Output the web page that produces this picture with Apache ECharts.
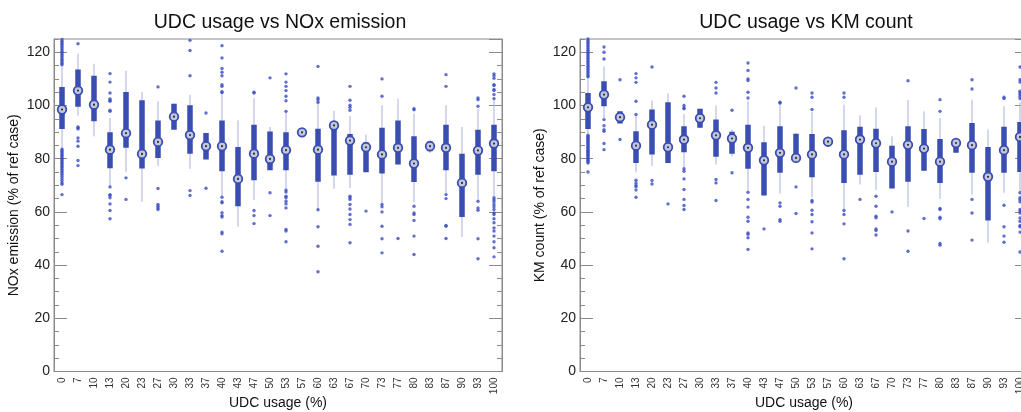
<!DOCTYPE html>
<html><head><meta charset="utf-8">
<script src="https://cdn.jsdelivr.net/npm/echarts@6/dist/echarts.min.js"></script>
<style>html,body{margin:0;padding:0;background:#fff}#c{width:1021px;height:412px}</style>
</head><body><div id="c"></div>
<script>
const categories = ['0','7','10','13','20','23','27','30','33','37','40','43','47','50','53','57','60','63','67','70','73','77','80','83','87','90','93','100'];

// Panel 1: NOx emission (% of ref case)
const noxLow  = [83.4,96.2,88.4,69.7,74.9,63.8,77.2,90.9,76.2,79.7,65.9,54.4,64.4,75.7,68.4,89.4,61.1,68.7,69.0,74.9,63.4,77.8,63.7,82.2,66.9,50.6,64.7,65.9];
const noxQ1   = [91.2,99.5,94.1,76.4,84.1,76.3,80.3,90.9,81.9,79.7,75.3,62.1,71.9,75.7,75.7,89.4,71.3,73.7,74.0,74.9,74.4,77.8,71.2,82.8,75.7,58.1,74.0,75.3];
const noxMed  = [98.5,105.6,100.3,83.4,89.6,81.8,86.3,95.8,88.9,84.7,84.7,72.4,81.9,79.9,83.2,89.9,83.4,92.5,86.8,84.3,81.6,84.1,78.2,84.7,84.1,70.9,83.1,85.7];
const noxQ3   = [107.0,113.5,111.2,89.9,105.1,102.0,94.4,100.7,100.1,89.7,94.4,84.4,92.8,90.2,89.9,90.4,91.3,94.0,89.3,86.2,91.6,94.4,88.4,86.6,92.8,81.9,90.9,92.8];
const noxHigh = [114.7,119.5,115.7,95.3,113.1,105.1,101.6,100.7,104.1,89.7,104.7,94.4,102.8,91.9,97.5,90.4,101.6,98.0,96.0,89.1,100.1,102.6,97.0,87.2,100.1,91.9,98.7,102.2];
const noxOutliers = [
  [125.5,124.8,124.2,123.6,123,122.4,121.8,121.2,120.6,120,119.4,118.8,118.2,117.6,117,116.4,115.8,115.3,83.6,83.1,82.6,82.1,81.6,81.1,80.6,80.1,79.6,79.1,78.6,78.1,77.6,77.1,76.6,76,75.4,74.8,74.2,73.4,72.6,71.8,71,70.4,66.5],
  [123.2,91.9,91.6,91.2,87.8,86.6,84.7,79.3,77.4],
  [],
  [112.0,108.8,104.7,102.5,102.0,101.6,98.2,97.8,69.4,66.5,66.2,65.3,63.0,60.5,57.4],
  [72.8,64.7],
  [],
  [107.0,68.8,62.8,62.1,61.5,60.9],
  [],
  [124.5,120.7,111.2,68.0,66.2],
  [97.2,68.9],
  [122.5,117.9,113.9,112.5,111.2,107.8,107.2,105.2,104.9,65.5,63.8,63.4,59.7,58.6,58.1,52.4,51.8,45.2],
  [],
  [105.0,104.7,60.5,58.6,55.6],
  [110.4,67.2,58.6],
  [111.9,108.8,107.2,105.6,103.5,101.8,97.8,68.2,67.5,65.9,65.3,64.0,63.0,61.5,53.4,52.8,48.8],
  [],
  [114.7,102.8,102.2,101.2,60.8,54.4,47.1,37.5],
  [],
  [107.2,102.0,100.1,99.3,98.2,65.9,65.3,64.7,62.8,61.1,59.0,57.1,55.3,48.4],
  [60.3],
  [110.0,103.5,62.8,61.9,60.0,54.6,49.9,44.6],
  [50.0],
  [98.8,98.4,62.1,59.6,59.0,56.8,50.9,44.0],
  [],
  [111.6,107.2,66.5,65.0,54.9,54.6,50.0],
  [],
  [102.8,102.2,99.7,64.0,61.5,60.6,49.9,42.4],
  [111.9,111.2,110.2,107.8,107.5,106.0,105.6,104.1,102.6,65.3,64.6,63.8,62.8,61.9,60.9,59.6,59.0,57.4,55.9,54.0,52.8,50.9,48.8,46.5,43.1]
];

// Panel 2: KM count (% of ref case)
const kmLow  = [89.1,95.3,93.2,74.9,77.2,78.4,76.8,91.6,77.8,80.9,68.2,66.2,66.9,79.4,65.5,85.7,60.9,70.3,68.2,68.8,61.9,75.5,64.9,82.2,66.5,48.4,67.2,67.0];
const kmQ1   = [91.2,99.7,93.2,78.4,81.6,78.4,82.4,91.6,80.7,81.9,76.2,66.2,74.7,79.4,73.0,85.7,70.9,74.0,75.0,68.8,71.3,75.5,70.9,82.2,74.7,56.8,74.7,75.0];
const kmMed  = [99.3,104.1,95.6,84.9,92.8,84.3,87.2,95.2,88.8,87.6,84.1,79.4,82.2,80.3,81.6,86.4,81.6,87.2,85.8,78.9,85.2,83.8,78.9,85.9,85.1,73.2,83.2,88.2];
const kmQ3   = [104.7,109.1,97.8,90.3,98.5,101.2,92.2,98.8,94.7,90.1,92.8,86.2,92.2,89.4,89.3,87.2,90.7,92.0,91.3,84.9,92.2,91.2,87.4,86.6,93.4,84.4,92.0,93.8];
const kmHigh = [110.5,114.7,97.8,96.3,101.8,104.5,96.8,98.8,100.0,91.0,101.6,92.4,101.6,89.7,97.5,87.2,100.3,96.3,99.3,88.4,102.0,97.8,95.3,86.6,102.2,91.0,99.7,101.0];
const kmOutliers = [
  [125.5,125,124.4,123.8,123.2,122.6,122,121.4,120.8,120.2,119.6,119,118.4,117.8,117.2,116.6,116,115.4,114.8,114.2,113.6,113,112.4,111.8,111.2,110.8,88.8,88.4,88,87.6,87.2,86.8,86.4,86,85.6,85.2,84.8,84.4,84,83.6,83.2,82.8,82.4,82,81.6,81.2,80.8,80.4,80,79.6,79.2,78.8,78.4,75],
  [122.0,120.0,117.5,94.7,92.4,90.9,90.3,85.7,83.4],
  [109.7,87.2],
  [112.0,110.4,108.7,101.6,96.6,71.9,70.9,70.0,69.4,68.2,65.5],
  [114.5,71.8,70.5],
  [63.0],
  [103.5,100.0,99.1,98.8,76.2,75.3,72.4,68.4,64.7,62.4,60.9],
  [],
  [108.7,106.6,104.7,72.2,70.9,64.3],
  [98.2,74.7],
  [116.0,113.2,110.0,109.4,105.0,102.8,67.4,64.7,61.8,58.0,56.5,52.1,51.6,50.3,45.9],
  [53.6],
  [101.2,100.9,63.4,62.1,57.1,56.5],
  [106.6,69.4,59.4],
  [104.7,103.1,98.5,64.3,63.7,60.6,59.0,56.3,52.1,46.1],
  [],
  [104.7,103.1,60.5,59.0,55.5,42.4],
  [64.7],
  [65.9,62.1,58.4,57.8,53.6,53.0,51.3],
  [60.0],
  [109.3,52.8,45.2],
  [57.5],
  [102.2,97.8,61.3,60.9,58.0,57.4,48.1,47.5],
  [],
  [109.7,106.2,64.7,59.6,49.4],
  [],
  [103.1,102.6,62.5,54.4,50.9,48.6],
  [114.5,109.7,108.8,105.4,104.8,104.1,103.4,102.6,67.2,65.3,64.7,63.8,60.9,60.3,59.6,57.7,56.5,54.9,54.4,52.4,44.9]
];

const titles = ['UDC usage vs NOx emission', 'UDC usage vs KM count'];
const yNames = ['NOx emission (% of ref case)', 'KM count (% of ref case)'];
const xName = 'UDC usage (%)';

const FONT = 'Liberation Sans, Arial, Helvetica, sans-serif';
const BOX = '#3a4db0';
const WHISK = '#a9b0de';
const AXC = '#8a8a8a';

function renderBox(params, api) {
  const x = api.value(0);
  const pL = api.coord([x, api.value(1)]);
  const p1 = api.coord([x, api.value(2)]);
  const pM = api.coord([x, api.value(3)]);
  const p3 = api.coord([x, api.value(4)]);
  const pH = api.coord([x, api.value(5)]);
  return {type: 'group', children: [
    {type: 'line', shape: {x1: pL[0], y1: pL[1], x2: pH[0], y2: pH[1]}, style: {stroke: WHISK, lineWidth: 1}},
    {type: 'line', shape: {x1: p1[0], y1: p1[1], x2: p3[0], y2: p3[1]}, style: {stroke: BOX, lineWidth: 5.5}},
    {type: 'circle', shape: {cx: pM[0], cy: pM[1], r: 4.3}, style: {fill: '#c3c7de', stroke: BOX, lineWidth: 1.8}},
    {type: 'circle', shape: {cx: pM[0], cy: pM[1], r: 1.1}, style: {fill: '#333'}}
  ]};
}

const panels = [
  {low: noxLow, q1: noxQ1, med: noxMed, q3: noxQ3, high: noxHigh, out: noxOutliers, left: 54},
  {low: kmLow, q1: kmQ1, med: kmMed, q3: kmQ3, high: kmHigh, out: kmOutliers, left: 580}
];
const W = 448;

const option = {
  animation: false,
  backgroundColor: '#fff',
  title: panels.map((p, k) => ({
    text: titles[k], left: p.left + W / 2 - 3, top: 8, textAlign: 'center',
    textStyle: {fontSize: 19.5, fontWeight: 'normal', color: '#111', fontFamily: FONT}
  })),
  grid: panels.map(p => ({left: p.left, width: W, top: 39, height: 332.5, containLabel: false, outerBoundsMode: 'none',
    show: true, borderColor: AXC, borderWidth: 1, backgroundColor: 'transparent'})),
  xAxis: panels.map((p, k) => ({
    gridIndex: k, type: 'category', data: categories, boundaryGap: true,
    axisLine: {lineStyle: {color: AXC}}, axisTick: {show: false},
    axisLabel: {rotate: 90, fontSize: 10, color: '#333', margin: 6, interval: 0, fontFamily: FONT},
    name: xName, nameLocation: 'middle', nameGap: 25, nameMoveOverlap: false,
    nameTextStyle: {fontSize: 14, color: '#111', fontFamily: FONT, verticalAlign: 'top'}
  })),
  yAxis: [],
  series: []
};

panels.forEach((p, k) => {
  const base = {gridIndex: k, type: 'value', min: 0, max: 125, splitLine: {show: false}};
  option.yAxis.push(Object.assign({}, base, {
    position: 'left', interval: 20,
    axisLine: {show: true, lineStyle: {color: AXC}},
    axisTick: {show: true, inside: true, length: 13, lineStyle: {color: AXC}},
    axisLabel: {fontSize: 14, color: '#222', margin: 4, showMaxLabel: false, fontFamily: FONT},
    name: yNames[k], nameLocation: 'middle', nameGap: 33, nameMoveOverlap: false,
    nameTextStyle: {fontSize: 14, color: '#111', fontFamily: FONT}
  }));
  option.yAxis.push(Object.assign({}, base, {
    position: 'left', interval: 5,
    axisLine: {show: false}, axisLabel: {show: false},
    axisTick: {show: true, inside: true, length: 5, lineStyle: {color: AXC}}
  }));
  option.yAxis.push(Object.assign({}, base, {
    position: 'right', interval: 20,
    axisLine: {show: true, lineStyle: {color: AXC}}, axisLabel: {show: false},
    axisTick: {show: true, inside: true, length: 13, lineStyle: {color: AXC}}
  }));
  option.yAxis.push(Object.assign({}, base, {
    position: 'right', interval: 5,
    axisLine: {show: false}, axisLabel: {show: false},
    axisTick: {show: true, inside: true, length: 5, lineStyle: {color: AXC}}
  }));
  const yIdx = k * 4;
  option.series.push({
    type: 'custom', xAxisIndex: k, yAxisIndex: yIdx, clip: true,
    renderItem: renderBox,
    encode: {x: 0, y: [1, 2, 3, 4, 5]},
    data: categories.map((c, i) => [i, p.low[i], p.q1[i], p.med[i], p.q3[i], p.high[i]]),
    z: 2
  });
  const pts = [];
  p.out.forEach((arr, i) => arr.forEach(v => pts.push([i, v])));
  option.series.push({
    type: 'scatter', xAxisIndex: k, yAxisIndex: yIdx, clip: true,
    symbol: 'circle', symbolSize: 3.4,
    itemStyle: {color: '#3b4cc0'},
    data: pts, z: 3
  });
});

const chart = echarts.init(document.getElementById('c'), null, {renderer: 'canvas'});
chart.setOption(option);
</script></body></html>
